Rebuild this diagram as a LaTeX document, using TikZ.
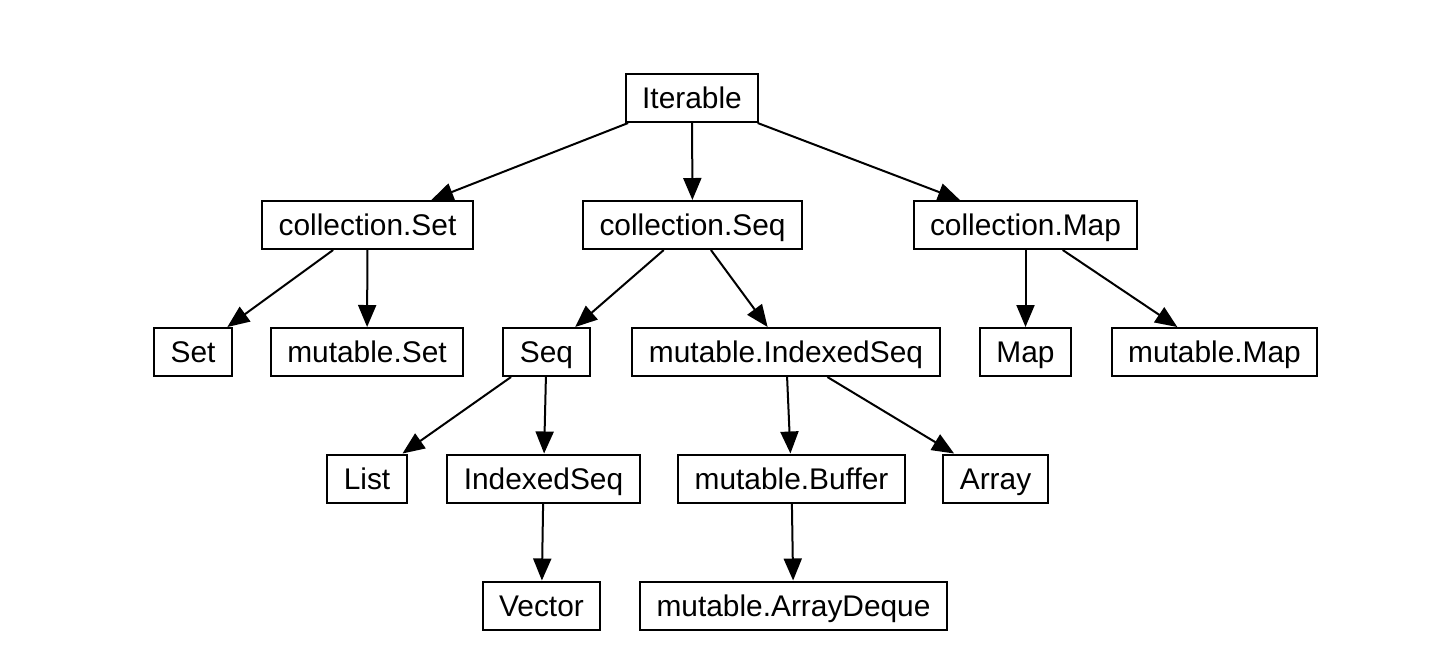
\documentclass[tikz,border=0pt]{standalone}
\usepackage{fontspec}
\setmainfont{Liberation Sans}
\usetikzlibrary{arrows.meta}

\begin{document}
\begin{tikzpicture}[
        block/.style={
            draw,
            line width=0.04cm,
            minimum height=0.96cm,
            inner xsep=0.33cm,
            inner ysep=0pt,
            text height=16pt,
            text depth=3.8pt,
            align=center,
            font=\fontsize{17}{20}\selectfont
        },
        arrow/.style={-{Triangle[length=0.44cm,width=0.36cm]}, line width=0.04cm}
    ]

    \useasboundingbox (0,0) rectangle (28.84,-13.12);

    \node[block] (iter) at (13.84,-1.96) {Iterable};

    \node[block] (cset) at (7.35,-4.50) {collection.Set};
    \node[block] (cseq) at (13.85,-4.50) {collection.Seq};
    \node[block] (cmap) at (20.51,-4.50) {collection.Map};

    \node[block] (set) at (3.86,-7.04) {Set};
    \node[block] (mset) at (7.34,-7.04) {mutable.Set};
    \node[block] (seq) at (10.93,-7.04) {Seq};
    \node[block] (midx) at (15.72,-7.04) {mutable.IndexedSeq};
    \node[block] (map) at (20.51,-7.04) {Map};
    \node[block] (mmap) at (24.29,-7.04) {mutable.Map};

    \node[block] (list) at (7.34,-9.57) {List};
    \node[block] (idxseq) at (10.87,-9.57) {IndexedSeq};
    \node[block] (mbuf) at (15.83,-9.57) {mutable.Buffer};
    \node[block] (array) at (19.91,-9.57) {Array};

    \node[block] (vector) at (10.83,-12.11) {Vector};
    \node[block] (mdeque) at (15.87,-12.11) {mutable.ArrayDeque};

    \draw[arrow] (iter) -- (cset);
    \draw[arrow] (iter) -- (cseq);
    \draw[arrow] (iter) -- (cmap);
    \draw[arrow] (cset) -- (set);
    \draw[arrow] (cset) -- (mset);
    \draw[arrow] (cseq) -- (seq);
    \draw[arrow] (cseq) -- (midx);
    \draw[arrow] (cmap) -- (map);
    \draw[arrow] (cmap) -- (mmap);
    \draw[arrow] (seq) -- (list);
    \draw[arrow] (seq) -- (idxseq);
    \draw[arrow] (midx) -- (mbuf);
    \draw[arrow] (midx) -- (array);
    \draw[arrow] (idxseq) -- (vector);
    \draw[arrow] (mbuf) -- (mdeque);

    \end{tikzpicture}
\end{document}
